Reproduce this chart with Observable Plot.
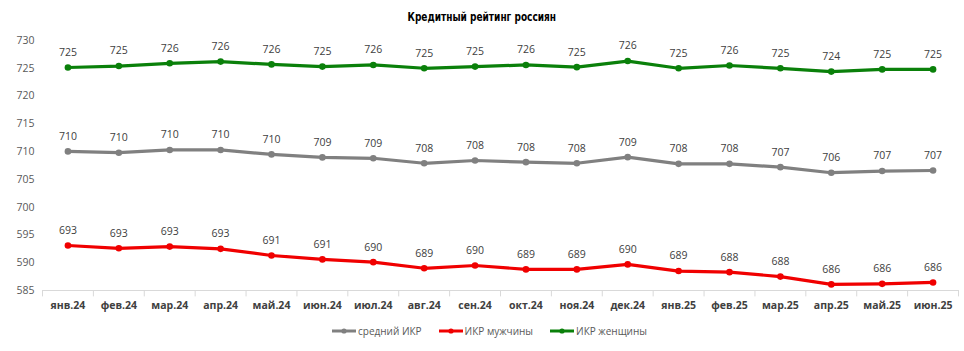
<!DOCTYPE html>
<html>
<head>
<meta charset="utf-8">
<script src="https://cdn.jsdelivr.net/npm/d3@7"></script>
<script src="https://cdn.jsdelivr.net/npm/@observablehq/plot@0.6"></script>
<style>
  body { margin: 0; background: #fff; width: 964px; height: 351px; overflow: hidden; font-family: "Open Sans", "Noto Sans", sans-serif; }
  #title { height: 28px; line-height: 30px; text-align: center; color: #000; }
  #title span { display: inline-block; font-family: "DejaVu Sans Condensed", "DejaVu Sans", sans-serif; font-weight: bold; font-size: 12.5px; transform: scaleX(0.8); transform-origin: center; }
  #legend { display: flex; justify-content: center; gap: 16px; margin-top: 6px; font-size: 10px; color: #595959; padding-left: 14px; }
  #legend span { display: inline-flex; align-items: center; }
  #legend svg { margin-right: 1px; }
</style>
</head>
<body>
<div id="title"><span>Кредитный рейтинг россиян</span></div>
<div id="chart"></div>
<div id="legend"></div>
<script>
const months = ["янв.24","фев.24","мар.24","апр.24","май.24","июн.24","июл.24","авг.24","сен.24","окт.24","ноя.24","дек.24","янв.25","фев.25","мар.25","апр.25","май.25","июн.25"];
const avgIKR   = [710.04,709.8,710.3,710.3,709.5,708.96,708.8,707.9,708.4,708.1,707.9,709.0,707.8,707.8,707.2,706.2,706.5,706.6];
const menIKR   = [693.1,692.6,692.9,692.5,691.3,690.6,690.1,689.0,689.5,688.8,688.8,689.7,688.5,688.3,687.5,686.1,686.2,686.45];
const womenIKR = [725.14,725.4,725.9,726.2,725.7,725.3,725.6,725.0,725.3,725.6,725.2,726.3,725.0,725.5,725.0,724.4,724.8,724.8];
const seriesNames = ["средний ИКР","ИКР мужчины","ИКР женщины"];
const seriesColors = ["#808080","#f00000","#0a800a"];
const yTicks = [730,725,720,715,710,705,700,695,690,685];
const yTickLabels = ["730","725","720","715","710","705","700","595","590","585"];

const allSeries = [avgIKR, menIKR, womenIKR];
const data = [];
allSeries.forEach((vals, s) => vals.forEach((v, i) => data.push({i, month: months[i], value: v, series: seriesNames[s]})));
const boundaries = d3.range(months.length + 1).map(i => i - 0.5);

const chart = Plot.plot({
  width: 964,
  height: 290,
  marginTop: 12,
  marginBottom: 28,
  marginLeft: 42,
  marginRight: 6,
  style: {fontFamily: "'Open Sans', 'Noto Sans', sans-serif", fontSize: "10.5px", background: "#fff"},
  x: {domain: [-0.5, months.length - 0.5], axis: null, label: null},
  y: {domain: [685, 730], axis: null, label: null},
  color: {domain: seriesNames, range: seriesColors},
  marks: [
    Plot.ruleY([685], {stroke: "#d9d9d9", strokeWidth: 1}),
    Plot.ruleX(boundaries, {x: d => d, y1: 685, y2: 683.85, stroke: "#d9d9d9", strokeWidth: 1}),
    Plot.axisY(yTicks, {label: null, tickSize: 0, tickPadding: 8, tickFormat: d => yTickLabels[yTicks.indexOf(d)], fill: "#595959", fontSize: 10.5}),
    Plot.axisX(d3.range(months.length), {label: null, tickSize: 0, tickPadding: 11, tickFormat: i => months[i], fontWeight: "bold", fill: "#404040", fontSize: 10.5}),
    Plot.line(data, {x: "i", y: "value", z: "series", stroke: "series", strokeWidth: 3.2, strokeLinejoin: "round", strokeLinecap: "round"}),
    Plot.dot(data, {x: "i", y: "value", fill: "series", r: 3.3}),
    Plot.text(data, {x: "i", y: "value", text: d => String(Math.round(d.value)), dy: -15, fill: "#404040", fontSize: 10.5})
  ]
});
document.getElementById("chart").appendChild(chart);

const legend = document.getElementById("legend");
seriesNames.forEach((name, k) => {
  const span = document.createElement("span");
  span.innerHTML = `<svg width="26" height="8"><line x1="1" y1="4" x2="25" y2="4" stroke="${seriesColors[k]}" stroke-width="3"/><circle cx="13" cy="4" r="2.6" fill="${seriesColors[k]}"/></svg>${name}`;
  legend.appendChild(span);
});
</script>
</body>
</html>
